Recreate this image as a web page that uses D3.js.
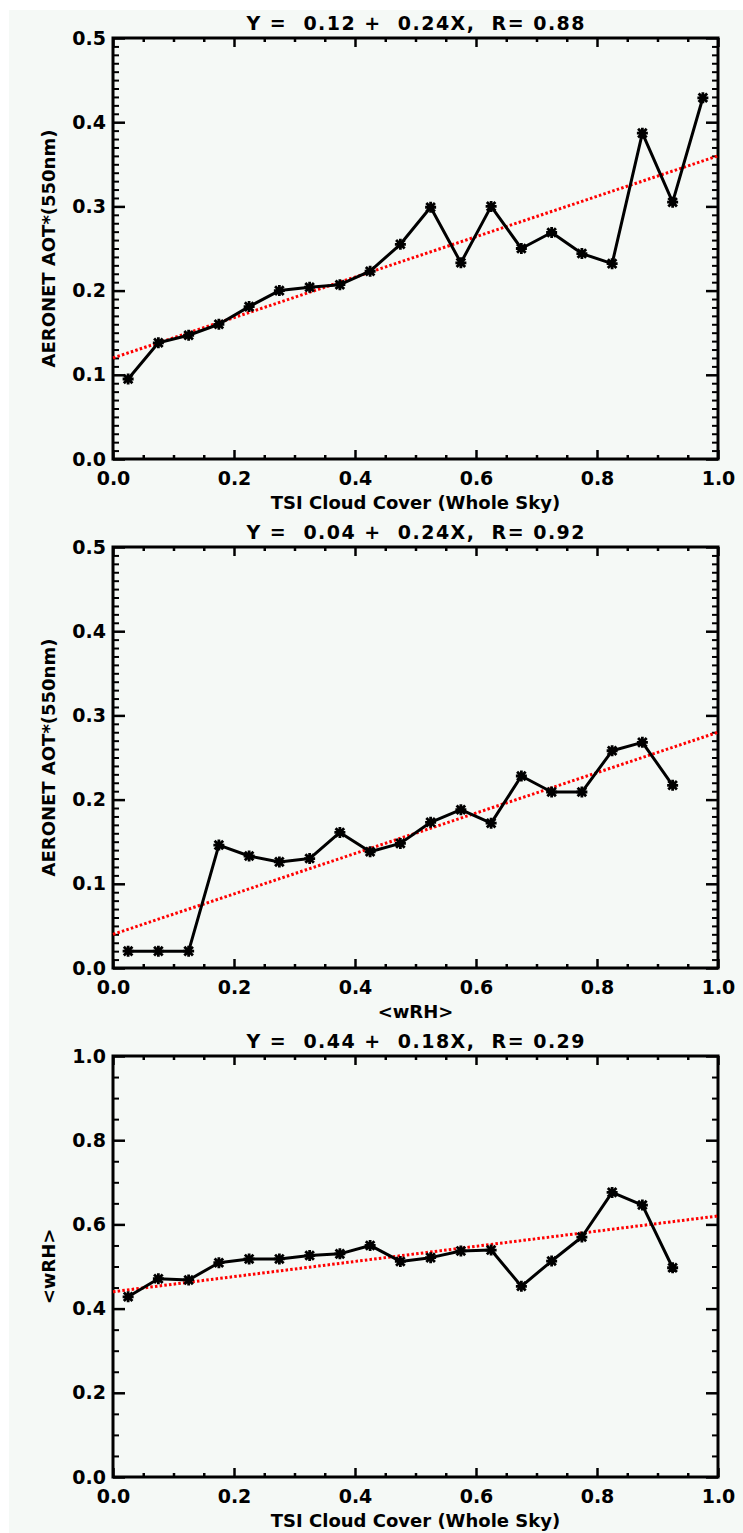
<!DOCTYPE html>
<html>
<head>
<meta charset="utf-8">
<script src="https://cdn.jsdelivr.net/npm/d3@7"></script>
<style>
  html, body { margin: 0; padding: 0; background: #ffffff; }
  svg { display: block; }
  svg text { font-family: "DejaVu Sans", sans-serif; font-weight: bold; fill: #000; }
</style>
</head>
<body>
<svg id="chart" width="743" height="1533"></svg>
<script>
// Bin centres (fraction of sky covered / weighted RH)
const cloudBins = [0.025, 0.075, 0.125, 0.175, 0.225, 0.275, 0.325, 0.375, 0.425, 0.475,
                   0.525, 0.575, 0.625, 0.675, 0.725, 0.775, 0.825, 0.875, 0.925, 0.975];
const wrhBins   = [0.025, 0.075, 0.125, 0.175, 0.225, 0.275, 0.325, 0.375, 0.425, 0.475,
                   0.525, 0.575, 0.625, 0.675, 0.725, 0.775, 0.825, 0.875, 0.925];

// Binned means
const aotByCloud = [0.095, 0.138, 0.147, 0.160, 0.181, 0.200, 0.204, 0.207, 0.223, 0.255,
                    0.299, 0.233, 0.300, 0.250, 0.269, 0.244, 0.232, 0.387, 0.305, 0.429];
const aotByWrh   = [0.020, 0.020, 0.020, 0.146, 0.133, 0.126, 0.130, 0.161, 0.138, 0.148,
                    0.173, 0.188, 0.172, 0.228, 0.209, 0.209, 0.258, 0.268, 0.217];
const wrhByCloud = [0.428, 0.471, 0.468, 0.509, 0.518, 0.518, 0.526, 0.530, 0.550, 0.512,
                    0.521, 0.537, 0.539, 0.453, 0.513, 0.570, 0.676, 0.646, 0.497];

// Linear fits: Y = a + bX, correlation R
const fitIntercept = [0.12, 0.04, 0.44];
const fitSlope     = [0.24, 0.24, 0.18];
const fitR         = [0.88, 0.92, 0.29];

// Axis titles and tick labels
const xTitles = ["TSI Cloud Cover (Whole Sky)", "<wRH>", "TSI Cloud Cover (Whole Sky)"];
const yTitles = ["AERONET AOT*(550nm)", "AERONET AOT*(550nm)", "<wRH>"];
const xTickValues = [0.0, 0.2, 0.4, 0.6, 0.8, 1.0];
const yTicksAot = [0.0, 0.1, 0.2, 0.3, 0.4, 0.5];
const yTicksWrh = [0.0, 0.2, 0.4, 0.6, 0.8, 1.0];

const svg = d3.select("#chart");
svg.append("rect").attr("x", 9).attr("y", 10).attr("width", 734).attr("height", 1523)
   .attr("fill", "#f5f9f6");

const plotLeft = 113, plotRight = 718, plotHeight = 421;
const panelTops = [38, 547, 1056];

const panels = [
  { xs: cloudBins, ys: aotByCloud, yTicks: yTicksAot, yMinorStep: 0.01 },
  { xs: wrhBins,   ys: aotByWrh,   yTicks: yTicksAot, yMinorStep: 0.01 },
  { xs: cloudBins, ys: wrhByCloud, yTicks: yTicksWrh, yMinorStep: 0.05 }
];

const fmt = d3.format(".1f");
const fmt2 = d3.format(".2f");

function styleAxis(sel, width) {
  sel.select(".domain").remove();
  sel.selectAll(".tick line").attr("stroke", "#000").attr("stroke-width", width);
  sel.selectAll(".tick text").attr("font-size", 19).attr("fill", "#000");
}

panels.forEach((p, i) => {
  const top = panelTops[i], bottom = top + plotHeight;
  const g = svg.append("g");
  const yDom = [p.yTicks[0], p.yTicks[p.yTicks.length - 1]];
  const x = d3.scaleLinear().domain([0, 1]).range([plotLeft, plotRight]);
  const y = d3.scaleLinear().domain(yDom).range([bottom, top]);

  const xMinor = d3.range(0, 1.0001, 0.05).filter(v => Math.abs(v / 0.2 - Math.round(v / 0.2)) > 1e-6);
  const yMinor = d3.range(yDom[0], yDom[1] + 1e-6, p.yMinorStep)
                   .filter(v => !p.yTicks.some(t => Math.abs(t - v) < 1e-6));

  // minor ticks on all four sides
  g.append("g").attr("transform", `translate(${plotLeft},0)`)
    .call(d3.axisLeft(y).tickValues(yMinor).tickSize(-6).tickFormat(""))
    .call(s => styleAxis(s, 2));
  g.append("g").attr("transform", `translate(${plotRight},0)`)
    .call(d3.axisRight(y).tickValues(yMinor).tickSize(-6).tickFormat(""))
    .call(s => styleAxis(s, 2));
  g.append("g").attr("transform", `translate(0,${bottom})`)
    .call(d3.axisBottom(x).tickValues(xMinor).tickSize(-4).tickFormat(""))
    .call(s => styleAxis(s, 2.5));
  g.append("g").attr("transform", `translate(0,${top})`)
    .call(d3.axisTop(x).tickValues(xMinor).tickSize(-4).tickFormat(""))
    .call(s => styleAxis(s, 2.5));

  // major ticks with labels
  g.append("g").attr("transform", `translate(${plotLeft},0)`)
    .call(d3.axisLeft(y).tickValues(p.yTicks).tickSize(-12).tickPadding(7).tickFormat(fmt))
    .call(s => styleAxis(s, 2.5));
  g.append("g").attr("transform", `translate(${plotRight},0)`)
    .call(d3.axisRight(y).tickValues(p.yTicks).tickSize(-12).tickFormat(""))
    .call(s => styleAxis(s, 2.5));
  g.append("g").attr("transform", `translate(0,${bottom})`)
    .call(d3.axisBottom(x).tickValues(xTickValues).tickSize(-9).tickPadding(13).tickFormat(fmt))
    .call(s => styleAxis(s, 2.5));
  g.append("g").attr("transform", `translate(0,${top})`)
    .call(d3.axisTop(x).tickValues(xTickValues).tickSize(-9).tickFormat(""))
    .call(s => styleAxis(s, 2.5));

  // frame
  g.append("rect").attr("x", plotLeft).attr("y", top)
    .attr("width", plotRight - plotLeft).attr("height", plotHeight)
    .attr("fill", "none").attr("stroke", "#000").attr("stroke-width", 3);

  // regression line
  const a = fitIntercept[i], b = fitSlope[i];
  g.append("path")
    .datum([0, 1])
    .attr("d", d3.line().x(d => x(d)).y(d => y(a + b * d)))
    .attr("fill", "none").attr("stroke", "#ff0000").attr("stroke-width", 3)
    .attr("stroke-dasharray", "2.5,2.2");

  // binned means (one point per value in the series)
  const pts = p.ys.map((v, k) => [p.xs[k], v]);
  g.append("path")
    .datum(pts)
    .attr("d", d3.line().x(d => x(d[0])).y(d => y(d[1])))
    .attr("fill", "none").attr("stroke", "#000").attr("stroke-width", 3)
    .attr("stroke-linejoin", "round");
  const r = 5.5, rd = 4.3;
  g.selectAll("path.sym").data(pts).join("path")
    .attr("class", "sym")
    .attr("transform", d => `translate(${x(d[0])},${y(d[1])})`)
    .attr("d", `M${-r},0H${r}M0,${-r}V${r}M${-rd},${-rd}L${rd},${rd}M${-rd},${rd}L${rd},${-rd}`)
    .attr("stroke", "#000").attr("stroke-width", 2.8).attr("fill", "none");

  // titles
  const cx = (plotLeft + plotRight) / 2;
  g.append("text").attr("x", cx).attr("y", top - 8)
    .attr("text-anchor", "middle").attr("font-size", 19)
    .attr("xml:space", "preserve").style("white-space", "pre")
    .attr("textLength", 338).attr("lengthAdjust", "spacing")
    .text(`Y =  ${fmt2(a)} +  ${fmt2(b)}X,  R= ${fmt2(fitR[i])}`);
  g.append("text").attr("x", cx).attr("y", bottom + 50)
    .attr("text-anchor", "middle").attr("font-size", 18)
    .text(xTitles[i]);
  g.append("text")
    .attr("transform", `translate(55,${(top + bottom) / 2}) rotate(-90)`)
    .attr("text-anchor", "middle").attr("font-size", 18)
    .text(yTitles[i]);
});
</script>
</body>
</html>
